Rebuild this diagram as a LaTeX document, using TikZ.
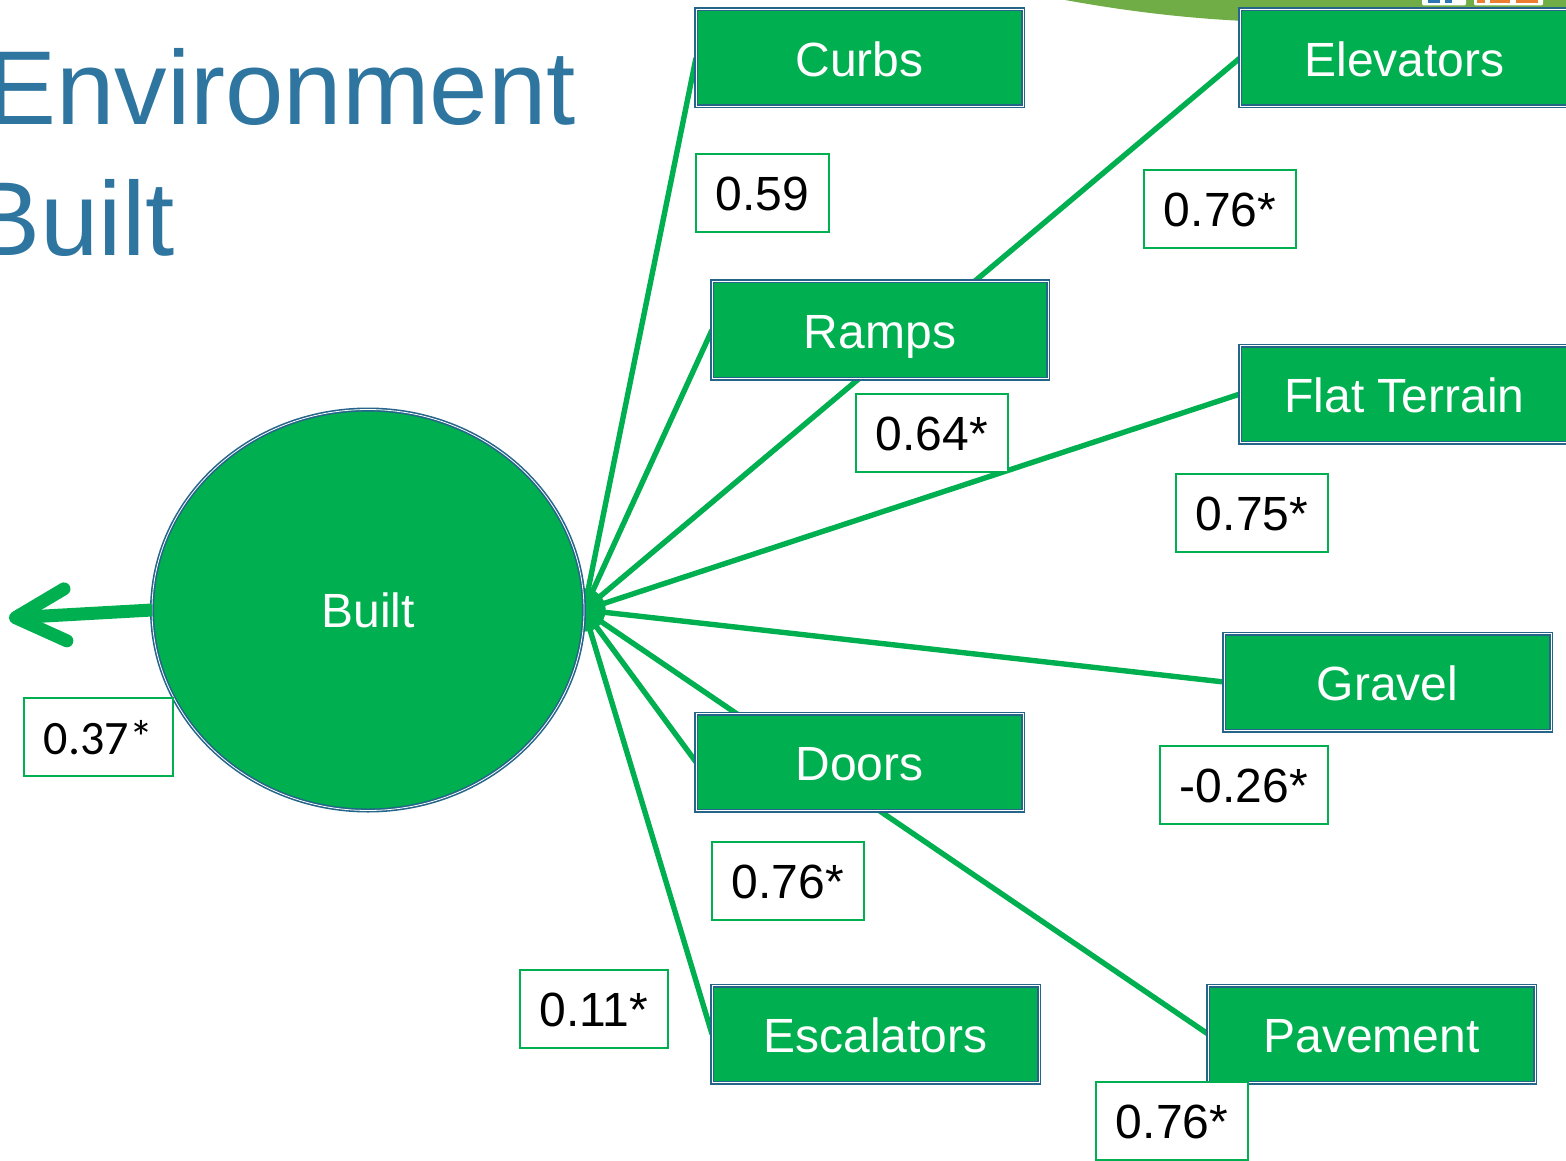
\documentclass[tikz,border=0pt]{standalone}
\usepackage{fontspec}
\setmainfont{Liberation Sans}
\newfontfamily\lblfont{Carlito}
\usetikzlibrary{arrows.meta,backgrounds,shapes.geometric}
\definecolor{builtGreen}{HTML}{00AF50}
\definecolor{edgeBlue}{HTML}{25658A}
\definecolor{titleBlue}{HTML}{2E75A0}
\definecolor{swooshGreen}{HTML}{70AD47}
\definecolor{logoBlue}{HTML}{2E75B6}
\definecolor{logoOrange}{HTML}{ED7D31}
\tikzset{
	itembox/.style={draw=edgeBlue,line width=.8pt,double=white,double distance=.4pt,fill=builtGreen,text=white,
		font=\fontsize{24}{26}\selectfont,minimum width=163.5pt,minimum height=48.5pt,text height=18.5pt,text depth=0pt,inner sep=0,outer sep=0},
	valbox/.style={draw=builtGreen,line width=1.2pt,fill=white,text=black,
		font=\fontsize{24}{26}\selectfont,minimum width=76pt,minimum height=39pt,text height=17.5pt,text depth=0pt,inner sep=0,outer sep=0},
	link/.style={draw=builtGreen,line width=2.7pt,{Circle[length=11pt]}-},
	titletext/.style={text=titleBlue,font=\fontsize{52.5}{56}\selectfont,anchor=base west,inner sep=0}
}
\begin{document}
\begin{tikzpicture}[x=.5pt,y=-.5pt]
	\useasboundingbox (0,0) rectangle (1566,1160);
	\fill[swooshGreen] (1065,0) .. controls (1120,10) and (1180,18) .. (1245,21) -- (1566,21) -- (1566,0) -- cycle;
	\fill[white,rounded corners=1pt] (1422,-3) rectangle (1466,5.5);
	\fill[white,rounded corners=1pt] (1474,-3) rectangle (1543,5.5);
	\foreach \a/\b in {1428/1440,1445/1452}
		\fill[logoBlue] (\a,0) rectangle (\b,3);
	\foreach \a/\b in {1477/1485,1490/1510,1516/1538}
		\fill[logoOrange] (\a,0) rectangle (\b,3);

	\node[titletext] (env) at (-14,125) {Environment};
	\node[titletext] (blt) at (-30,256) {Built};

	\node[ellipse,draw=edgeBlue,line width=.8pt,double=white,double distance=.4pt,fill=builtGreen,text=white,
		font=\fontsize{24}{26}\selectfont,minimum width=216pt,minimum height=200.5pt,text height=17pt,text depth=0pt,inner sep=0,outer sep=0] (built) at (368,610) {Built};

	\node[itembox] (curbs) at (859.5,58) {Curbs};
	\node[itembox,minimum width=164.5pt] (elev) at (1404.5,58) {Elevators};
	\node[itembox,minimum width=168pt] (ramps) at (880,330) {Ramps};
	\node[itembox,minimum width=164.5pt] (flat) at (1404.5,394) {Flat Terrain};
	\node[itembox] (gravel) at (1387.5,682) {Gravel};
	\node[itembox] (doors) at (859.5,762) {Doors};
	\node[itembox] (escal) at (875.5,1034) {Escalators};
	\node[itembox] (pave) at (1371.5,1034) {Pavement};

	\begin{scope}[on background layer]
		\path[link] (built.east) -- (curbs.west);
		\path[link] (built.east) -- (ramps.west);
		\path[link] (built.east) -- (elev.west);
		\path[link] (built.east) -- (flat.west);
		\path[link] (built.east) -- (gravel.west);
		\path[link] (built.east) -- (doors.west);
		\path[link] (built.east) -- (pave.west);
		\path[link] (built.east) -- (escal.west);
	\end{scope}

	\coordinate (out) at (9,618);
	\draw[builtGreen,line width=6.5pt,-{Straight Barb[round,length=25pt,width=26pt,line width=6.5pt]}] (built.west) -- (out);

	\node[valbox,minimum width=66.5pt] (v1) at (762.5,193) {0.59};
	\node[valbox] (v2) at (1220,209) {0.76*};
	\node[valbox] (v3) at (932,433) {0.64*};
	\node[valbox] (v4) at (1252,513) {0.75*};
	\node[valbox,minimum width=84pt] (v5) at (1244,785) {-0.26*};
	\node[valbox] (v6) at (788,881) {0.76*};
	\node[valbox,minimum width=74pt] (v7) at (594,1009) {0.11*};
	\node[valbox] (v8) at (1172,1121) {0.76*};
	\node[valbox,minimum width=74.5pt] (v9) at (98.5,737) {\lblfont 0.37*};
\end{tikzpicture}
\end{document}
